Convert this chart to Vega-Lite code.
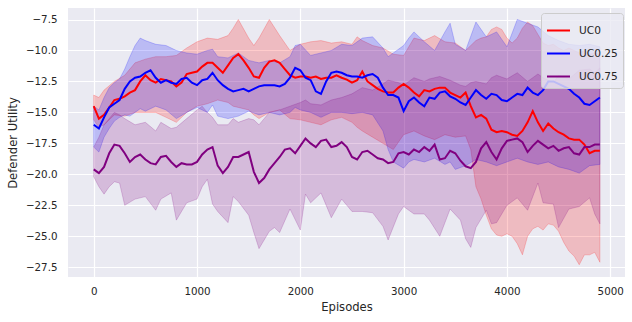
{
"$schema":"https://vega.github.io/schema/vega-lite/v6.json",
"autosize":{"type":"none"},
"padding":{"left":68,"top":8,"right":7,"bottom":45},
"width":557,"height":269,
"background":"white",
"config":{"view":{"fill":"#EAEAF2","stroke":null},
"axis":{"grid":true,"gridColor":"white","gridWidth":1.2,"domain":false,"ticks":false,"labelOverlap":false,"labelFont":"DejaVu Sans","labelFontSize":10.3,"labelColor":"#262626","titleFont":"DejaVu Sans","titleFontSize":11.6,"titleFontWeight":"normal","titleColor":"#262626"},
"legend":{"labelFont":"DejaVu Sans","labelFontSize":10.6,"labelColor":"#262626"}},
"datasets":{
"lines":[
{"s":"UC0","x":0,"y":-14.5},{"s":"UC0","x":50,"y":-15.5},{"s":"UC0","x":100,"y":-15.2},{"s":"UC0","x":150,"y":-14.6},{"s":"UC0","x":200,"y":-14.0},{"s":"UC0","x":250,"y":-13.9},{"s":"UC0","x":300,"y":-13.7},{"s":"UC0","x":350,"y":-13.4},{"s":"UC0","x":400,"y":-13.2},{"s":"UC0","x":450,"y":-12.5},{"s":"UC0","x":500,"y":-12.0},{"s":"UC0","x":550,"y":-12.4},{"s":"UC0","x":600,"y":-12.6},{"s":"UC0","x":650,"y":-12.3},{"s":"UC0","x":700,"y":-12.4},{"s":"UC0","x":750,"y":-12.5},{"s":"UC0","x":800,"y":-12.9},{"s":"UC0","x":850,"y":-12.6},{"s":"UC0","x":900,"y":-11.9},{"s":"UC0","x":950,"y":-11.8},{"s":"UC0","x":1000,"y":-11.7},{"s":"UC0","x":1050,"y":-11.3},{"s":"UC0","x":1100,"y":-11.0},{"s":"UC0","x":1150,"y":-11.0},{"s":"UC0","x":1200,"y":-11.4},{"s":"UC0","x":1250,"y":-11.8},{"s":"UC0","x":1300,"y":-11.2},{"s":"UC0","x":1350,"y":-10.6},{"s":"UC0","x":1400,"y":-10.3},{"s":"UC0","x":1450,"y":-10.8},{"s":"UC0","x":1500,"y":-11.4},{"s":"UC0","x":1550,"y":-12.1},{"s":"UC0","x":1600,"y":-12.2},{"s":"UC0","x":1650,"y":-11.4},{"s":"UC0","x":1700,"y":-10.9},{"s":"UC0","x":1750,"y":-10.8},{"s":"UC0","x":1800,"y":-11.0},{"s":"UC0","x":1850,"y":-11.5},{"s":"UC0","x":1900,"y":-12.0},{"s":"UC0","x":1950,"y":-12.2},{"s":"UC0","x":2000,"y":-12.1},{"s":"UC0","x":2050,"y":-12.1},{"s":"UC0","x":2100,"y":-12.2},{"s":"UC0","x":2150,"y":-12.1},{"s":"UC0","x":2200,"y":-12.3},{"s":"UC0","x":2250,"y":-12.2},{"s":"UC0","x":2300,"y":-12.2},{"s":"UC0","x":2350,"y":-12.0},{"s":"UC0","x":2400,"y":-12.2},{"s":"UC0","x":2450,"y":-12.35},{"s":"UC0","x":2500,"y":-12.6},{"s":"UC0","x":2550,"y":-12.4},{"s":"UC0","x":2600,"y":-11.7},{"s":"UC0","x":2650,"y":-12.5},{"s":"UC0","x":2700,"y":-12.8},{"s":"UC0","x":2750,"y":-13.1},{"s":"UC0","x":2800,"y":-13.3},{"s":"UC0","x":2850,"y":-13.4},{"s":"UC0","x":2900,"y":-13.4},{"s":"UC0","x":2950,"y":-13.0},{"s":"UC0","x":3000,"y":-12.7},{"s":"UC0","x":3050,"y":-13.0},{"s":"UC0","x":3100,"y":-13.4},{"s":"UC0","x":3150,"y":-13.7},{"s":"UC0","x":3200,"y":-13.2},{"s":"UC0","x":3250,"y":-13.3},{"s":"UC0","x":3300,"y":-13.1},{"s":"UC0","x":3350,"y":-13.0},{"s":"UC0","x":3400,"y":-13.0},{"s":"UC0","x":3450,"y":-13.4},{"s":"UC0","x":3500,"y":-13.6},{"s":"UC0","x":3550,"y":-13.8},{"s":"UC0","x":3600,"y":-13.4},{"s":"UC0","x":3650,"y":-14.5},{"s":"UC0","x":3700,"y":-15.4},{"s":"UC0","x":3750,"y":-15.2},{"s":"UC0","x":3800,"y":-15.5},{"s":"UC0","x":3850,"y":-16.4},{"s":"UC0","x":3900,"y":-16.6},{"s":"UC0","x":3950,"y":-16.5},{"s":"UC0","x":4000,"y":-16.6},{"s":"UC0","x":4050,"y":-16.8},{"s":"UC0","x":4100,"y":-16.9},{"s":"UC0","x":4150,"y":-16.5},{"s":"UC0","x":4200,"y":-15.8},{"s":"UC0","x":4250,"y":-14.9},{"s":"UC0","x":4300,"y":-15.8},{"s":"UC0","x":4350,"y":-16.5},{"s":"UC0","x":4400,"y":-15.9},{"s":"UC0","x":4450,"y":-16.3},{"s":"UC0","x":4500,"y":-16.6},{"s":"UC0","x":4550,"y":-16.8},{"s":"UC0","x":4600,"y":-17.1},{"s":"UC0","x":4650,"y":-17.2},{"s":"UC0","x":4700,"y":-17.2},{"s":"UC0","x":4750,"y":-17.6},{"s":"UC0","x":4800,"y":-18.3},{"s":"UC0","x":4850,"y":-18.1},{"s":"UC0","x":4900,"y":-18.1},
{"s":"UC0.25","x":0,"y":-16.0},{"s":"UC0.25","x":50,"y":-16.3},{"s":"UC0.25","x":100,"y":-15.4},{"s":"UC0.25","x":150,"y":-14.6},{"s":"UC0.25","x":200,"y":-14.3},{"s":"UC0.25","x":250,"y":-14.0},{"s":"UC0.25","x":300,"y":-13.1},{"s":"UC0.25","x":350,"y":-12.5},{"s":"UC0.25","x":400,"y":-12.2},{"s":"UC0.25","x":450,"y":-12.1},{"s":"UC0.25","x":500,"y":-11.8},{"s":"UC0.25","x":550,"y":-11.6},{"s":"UC0.25","x":600,"y":-12.2},{"s":"UC0.25","x":650,"y":-12.6},{"s":"UC0.25","x":700,"y":-12.4},{"s":"UC0.25","x":750,"y":-12.6},{"s":"UC0.25","x":800,"y":-12.7},{"s":"UC0.25","x":850,"y":-12.3},{"s":"UC0.25","x":900,"y":-12.2},{"s":"UC0.25","x":950,"y":-12.6},{"s":"UC0.25","x":1000,"y":-12.8},{"s":"UC0.25","x":1050,"y":-12.4},{"s":"UC0.25","x":1100,"y":-12.3},{"s":"UC0.25","x":1150,"y":-11.8},{"s":"UC0.25","x":1200,"y":-12.4},{"s":"UC0.25","x":1250,"y":-12.8},{"s":"UC0.25","x":1300,"y":-13.1},{"s":"UC0.25","x":1350,"y":-13.3},{"s":"UC0.25","x":1400,"y":-13.2},{"s":"UC0.25","x":1450,"y":-13.1},{"s":"UC0.25","x":1500,"y":-13.3},{"s":"UC0.25","x":1550,"y":-13.1},{"s":"UC0.25","x":1600,"y":-12.9},{"s":"UC0.25","x":1650,"y":-12.8},{"s":"UC0.25","x":1700,"y":-12.8},{"s":"UC0.25","x":1750,"y":-12.8},{"s":"UC0.25","x":1800,"y":-12.9},{"s":"UC0.25","x":1850,"y":-12.7},{"s":"UC0.25","x":1900,"y":-12.2},{"s":"UC0.25","x":1950,"y":-11.4},{"s":"UC0.25","x":2000,"y":-11.6},{"s":"UC0.25","x":2050,"y":-12.2},{"s":"UC0.25","x":2100,"y":-12.4},{"s":"UC0.25","x":2150,"y":-13.3},{"s":"UC0.25","x":2200,"y":-13.5},{"s":"UC0.25","x":2250,"y":-12.5},{"s":"UC0.25","x":2300,"y":-11.8},{"s":"UC0.25","x":2350,"y":-11.7},{"s":"UC0.25","x":2400,"y":-11.8},{"s":"UC0.25","x":2450,"y":-12.0},{"s":"UC0.25","x":2500,"y":-12.1},{"s":"UC0.25","x":2550,"y":-12.1},{"s":"UC0.25","x":2600,"y":-12.2},{"s":"UC0.25","x":2650,"y":-12.0},{"s":"UC0.25","x":2700,"y":-11.9},{"s":"UC0.25","x":2750,"y":-12.2},{"s":"UC0.25","x":2800,"y":-13.0},{"s":"UC0.25","x":2850,"y":-13.6},{"s":"UC0.25","x":2900,"y":-13.6},{"s":"UC0.25","x":2950,"y":-13.8},{"s":"UC0.25","x":3000,"y":-14.9},{"s":"UC0.25","x":3050,"y":-14.1},{"s":"UC0.25","x":3100,"y":-13.8},{"s":"UC0.25","x":3150,"y":-14.2},{"s":"UC0.25","x":3200,"y":-14.5},{"s":"UC0.25","x":3250,"y":-13.8},{"s":"UC0.25","x":3300,"y":-13.9},{"s":"UC0.25","x":3350,"y":-13.4},{"s":"UC0.25","x":3400,"y":-13.3},{"s":"UC0.25","x":3450,"y":-13.7},{"s":"UC0.25","x":3500,"y":-13.9},{"s":"UC0.25","x":3550,"y":-14.2},{"s":"UC0.25","x":3600,"y":-14.4},{"s":"UC0.25","x":3650,"y":-13.8},{"s":"UC0.25","x":3700,"y":-13.2},{"s":"UC0.25","x":3750,"y":-13.6},{"s":"UC0.25","x":3800,"y":-13.9},{"s":"UC0.25","x":3850,"y":-13.5},{"s":"UC0.25","x":3900,"y":-13.6},{"s":"UC0.25","x":3950,"y":-14.0},{"s":"UC0.25","x":4000,"y":-14.1},{"s":"UC0.25","x":4050,"y":-13.8},{"s":"UC0.25","x":4100,"y":-13.5},{"s":"UC0.25","x":4150,"y":-13.6},{"s":"UC0.25","x":4200,"y":-13.0},{"s":"UC0.25","x":4250,"y":-13.4},{"s":"UC0.25","x":4300,"y":-13.6},{"s":"UC0.25","x":4350,"y":-13.2},{"s":"UC0.25","x":4400,"y":-12.5},{"s":"UC0.25","x":4450,"y":-12.5},{"s":"UC0.25","x":4500,"y":-12.7},{"s":"UC0.25","x":4550,"y":-12.9},{"s":"UC0.25","x":4600,"y":-13.1},{"s":"UC0.25","x":4650,"y":-13.5},{"s":"UC0.25","x":4700,"y":-13.8},{"s":"UC0.25","x":4750,"y":-14.3},{"s":"UC0.25","x":4800,"y":-14.4},{"s":"UC0.25","x":4850,"y":-14.1},{"s":"UC0.25","x":4900,"y":-13.8},
{"s":"UC0.75","x":0,"y":-19.6},{"s":"UC0.75","x":50,"y":-19.9},{"s":"UC0.75","x":100,"y":-19.4},{"s":"UC0.75","x":150,"y":-18.3},{"s":"UC0.75","x":200,"y":-17.6},{"s":"UC0.75","x":250,"y":-17.7},{"s":"UC0.75","x":300,"y":-18.3},{"s":"UC0.75","x":350,"y":-19.0},{"s":"UC0.75","x":400,"y":-18.6},{"s":"UC0.75","x":450,"y":-18.4},{"s":"UC0.75","x":500,"y":-18.8},{"s":"UC0.75","x":550,"y":-19.1},{"s":"UC0.75","x":600,"y":-19.2},{"s":"UC0.75","x":650,"y":-18.6},{"s":"UC0.75","x":700,"y":-18.5},{"s":"UC0.75","x":750,"y":-19.0},{"s":"UC0.75","x":800,"y":-19.4},{"s":"UC0.75","x":850,"y":-19.1},{"s":"UC0.75","x":900,"y":-19.2},{"s":"UC0.75","x":950,"y":-19.2},{"s":"UC0.75","x":1000,"y":-19.0},{"s":"UC0.75","x":1050,"y":-18.4},{"s":"UC0.75","x":1100,"y":-18.0},{"s":"UC0.75","x":1150,"y":-17.8},{"s":"UC0.75","x":1200,"y":-19.3},{"s":"UC0.75","x":1250,"y":-19.9},{"s":"UC0.75","x":1300,"y":-19.4},{"s":"UC0.75","x":1350,"y":-18.6},{"s":"UC0.75","x":1400,"y":-18.6},{"s":"UC0.75","x":1450,"y":-18.4},{"s":"UC0.75","x":1500,"y":-18.2},{"s":"UC0.75","x":1550,"y":-19.8},{"s":"UC0.75","x":1600,"y":-20.7},{"s":"UC0.75","x":1650,"y":-20.3},{"s":"UC0.75","x":1700,"y":-19.6},{"s":"UC0.75","x":1750,"y":-19.1},{"s":"UC0.75","x":1800,"y":-18.6},{"s":"UC0.75","x":1850,"y":-18.0},{"s":"UC0.75","x":1900,"y":-17.9},{"s":"UC0.75","x":1950,"y":-18.3},{"s":"UC0.75","x":2000,"y":-17.7},{"s":"UC0.75","x":2050,"y":-17.1},{"s":"UC0.75","x":2100,"y":-17.5},{"s":"UC0.75","x":2150,"y":-17.8},{"s":"UC0.75","x":2200,"y":-17.3},{"s":"UC0.75","x":2250,"y":-17.2},{"s":"UC0.75","x":2300,"y":-17.8},{"s":"UC0.75","x":2350,"y":-17.7},{"s":"UC0.75","x":2400,"y":-17.4},{"s":"UC0.75","x":2450,"y":-17.8},{"s":"UC0.75","x":2500,"y":-18.6},{"s":"UC0.75","x":2550,"y":-18.8},{"s":"UC0.75","x":2600,"y":-18.2},{"s":"UC0.75","x":2650,"y":-18.1},{"s":"UC0.75","x":2700,"y":-18.4},{"s":"UC0.75","x":2750,"y":-18.7},{"s":"UC0.75","x":2800,"y":-18.8},{"s":"UC0.75","x":2850,"y":-19.1},{"s":"UC0.75","x":2900,"y":-19.0},{"s":"UC0.75","x":2950,"y":-18.3},{"s":"UC0.75","x":3000,"y":-18.2},{"s":"UC0.75","x":3050,"y":-18.4},{"s":"UC0.75","x":3100,"y":-18.0},{"s":"UC0.75","x":3150,"y":-18.2},{"s":"UC0.75","x":3200,"y":-17.8},{"s":"UC0.75","x":3250,"y":-18.1},{"s":"UC0.75","x":3300,"y":-17.6},{"s":"UC0.75","x":3350,"y":-18.8},{"s":"UC0.75","x":3400,"y":-18.7},{"s":"UC0.75","x":3450,"y":-18.1},{"s":"UC0.75","x":3500,"y":-18.3},{"s":"UC0.75","x":3550,"y":-18.9},{"s":"UC0.75","x":3600,"y":-19.35},{"s":"UC0.75","x":3650,"y":-19.5},{"s":"UC0.75","x":3700,"y":-19.0},{"s":"UC0.75","x":3750,"y":-17.9},{"s":"UC0.75","x":3800,"y":-17.4},{"s":"UC0.75","x":3850,"y":-18.2},{"s":"UC0.75","x":3900,"y":-18.8},{"s":"UC0.75","x":3950,"y":-17.9},{"s":"UC0.75","x":4000,"y":-17.3},{"s":"UC0.75","x":4050,"y":-17.2},{"s":"UC0.75","x":4100,"y":-17.1},{"s":"UC0.75","x":4150,"y":-17.4},{"s":"UC0.75","x":4200,"y":-18.2},{"s":"UC0.75","x":4250,"y":-17.7},{"s":"UC0.75","x":4300,"y":-17.3},{"s":"UC0.75","x":4350,"y":-17.6},{"s":"UC0.75","x":4400,"y":-17.9},{"s":"UC0.75","x":4450,"y":-17.7},{"s":"UC0.75","x":4500,"y":-18.1},{"s":"UC0.75","x":4550,"y":-17.9},{"s":"UC0.75","x":4600,"y":-17.8},{"s":"UC0.75","x":4650,"y":-18.3},{"s":"UC0.75","x":4700,"y":-18.4},{"s":"UC0.75","x":4750,"y":-17.8},{"s":"UC0.75","x":4800,"y":-17.8},{"s":"UC0.75","x":4850,"y":-17.6},{"s":"UC0.75","x":4900,"y":-17.6}
],
"bands":[
{"g":"UC0","x":0,"hi":-13.6,"y":-15.6},{"g":"UC0","x":50,"hi":-13.8,"y":-16.2},{"g":"UC0","x":100,"hi":-13.2,"y":-16.0},{"g":"UC0","x":200,"hi":-12.5,"y":-15.2},{"g":"UC0","x":300,"hi":-12.0,"y":-15.3},{"g":"UC0","x":400,"hi":-11.0,"y":-15.0},{"g":"UC0","x":500,"hi":-10.7,"y":-15.0},{"g":"UC0","x":600,"hi":-10.5,"y":-15.0},{"g":"UC0","x":700,"hi":-10.5,"y":-15.4},{"g":"UC0","x":800,"hi":-10.4,"y":-15.8},{"g":"UC0","x":900,"hi":-9.8,"y":-15.0},{"g":"UC0","x":1000,"hi":-9.3,"y":-14.5},{"g":"UC0","x":1100,"hi":-9.0,"y":-14.3},{"g":"UC0","x":1200,"hi":-9.1,"y":-14.0},{"g":"UC0","x":1300,"hi":-8.8,"y":-14.2},{"g":"UC0","x":1350,"hi":-8.2,"y":-14.5},{"g":"UC0","x":1400,"hi":-7.5,"y":-14.6},{"g":"UC0","x":1500,"hi":-9.0,"y":-14.8},{"g":"UC0","x":1550,"hi":-9.6,"y":-15.2},{"g":"UC0","x":1600,"hi":-9.0,"y":-15.5},{"g":"UC0","x":1700,"hi":-7.5,"y":-15.0},{"g":"UC0","x":1800,"hi":-8.8,"y":-14.8},{"g":"UC0","x":1900,"hi":-10.0,"y":-15.5},{"g":"UC0","x":2000,"hi":-9.5,"y":-15.6},{"g":"UC0","x":2100,"hi":-9.3,"y":-15.8},{"g":"UC0","x":2200,"hi":-9.2,"y":-16.0},{"g":"UC0","x":2300,"hi":-9.4,"y":-15.6},{"g":"UC0","x":2400,"hi":-9.3,"y":-15.4},{"g":"UC0","x":2500,"hi":-9.5,"y":-15.8},{"g":"UC0","x":2550,"hi":-8.9,"y":-16.2},{"g":"UC0","x":2600,"hi":-9.2,"y":-16.5},{"g":"UC0","x":2700,"hi":-9.6,"y":-17.0},{"g":"UC0","x":2800,"hi":-9.8,"y":-17.5},{"g":"UC0","x":2900,"hi":-10.3,"y":-18.0},{"g":"UC0","x":3000,"hi":-10.4,"y":-16.8},{"g":"UC0","x":3100,"hi":-9.0,"y":-16.5},{"g":"UC0","x":3200,"hi":-9.2,"y":-16.9},{"g":"UC0","x":3300,"hi":-8.8,"y":-17.2},{"g":"UC0","x":3400,"hi":-9.3,"y":-16.8},{"g":"UC0","x":3500,"hi":-9.4,"y":-17.0},{"g":"UC0","x":3600,"hi":-10.0,"y":-16.9},{"g":"UC0","x":3650,"hi":-9.6,"y":-18.0},{"g":"UC0","x":3700,"hi":-9.2,"y":-21.0},{"g":"UC0","x":3750,"hi":-9.0,"y":-22.0},{"g":"UC0","x":3800,"hi":-8.9,"y":-23.3},{"g":"UC0","x":3850,"hi":-8.3,"y":-24.4},{"g":"UC0","x":3900,"hi":-8.1,"y":-24.9},{"g":"UC0","x":3950,"hi":-8.3,"y":-25.0},{"g":"UC0","x":4000,"hi":-9.0,"y":-24.8},{"g":"UC0","x":4050,"hi":-9.4,"y":-25.0},{"g":"UC0","x":4100,"hi":-9.0,"y":-25.6},{"g":"UC0","x":4150,"hi":-8.2,"y":-26.5},{"g":"UC0","x":4200,"hi":-7.7,"y":-25.0},{"g":"UC0","x":4250,"hi":-8.0,"y":-24.4},{"g":"UC0","x":4300,"hi":-8.7,"y":-24.2},{"g":"UC0","x":4350,"hi":-9.4,"y":-24.5},{"g":"UC0","x":4400,"hi":-9.6,"y":-24.0},{"g":"UC0","x":4450,"hi":-9.5,"y":-24.1},{"g":"UC0","x":4500,"hi":-9.8,"y":-24.6},{"g":"UC0","x":4550,"hi":-10.0,"y":-25.5},{"g":"UC0","x":4600,"hi":-9.8,"y":-26.2},{"g":"UC0","x":4650,"hi":-10.0,"y":-26.6},{"g":"UC0","x":4700,"hi":-10.2,"y":-27.3},{"g":"UC0","x":4750,"hi":-10.0,"y":-26.5},{"g":"UC0","x":4800,"hi":-10.3,"y":-26.5},{"g":"UC0","x":4850,"hi":-10.2,"y":-26.3},{"g":"UC0","x":4900,"hi":-10.3,"y":-27.1},
{"g":"UC0.25","x":0,"hi":-14.5,"y":-17.8},{"g":"UC0.25","x":50,"hi":-14.8,"y":-18.2},{"g":"UC0.25","x":100,"hi":-13.8,"y":-17.0},{"g":"UC0.25","x":150,"hi":-13.0,"y":-16.3},{"g":"UC0.25","x":200,"hi":-12.6,"y":-15.7},{"g":"UC0.25","x":250,"hi":-12.3,"y":-15.4},{"g":"UC0.25","x":300,"hi":-11.5,"y":-15.2},{"g":"UC0.25","x":350,"hi":-10.5,"y":-15.3},{"g":"UC0.25","x":400,"hi":-9.6,"y":-15.0},{"g":"UC0.25","x":450,"hi":-9.0,"y":-14.7},{"g":"UC0.25","x":500,"hi":-9.2,"y":-14.9},{"g":"UC0.25","x":600,"hi":-9.5,"y":-14.5},{"g":"UC0.25","x":700,"hi":-9.6,"y":-14.8},{"g":"UC0.25","x":800,"hi":-10.0,"y":-15.5},{"g":"UC0.25","x":900,"hi":-10.2,"y":-15.0},{"g":"UC0.25","x":1000,"hi":-10.3,"y":-14.6},{"g":"UC0.25","x":1100,"hi":-10.0,"y":-15.0},{"g":"UC0.25","x":1150,"hi":-9.9,"y":-14.4},{"g":"UC0.25","x":1200,"hi":-10.5,"y":-15.3},{"g":"UC0.25","x":1300,"hi":-10.6,"y":-15.5},{"g":"UC0.25","x":1400,"hi":-10.2,"y":-15.3},{"g":"UC0.25","x":1500,"hi":-10.8,"y":-14.9},{"g":"UC0.25","x":1600,"hi":-11.0,"y":-15.2},{"g":"UC0.25","x":1700,"hi":-10.8,"y":-15.0},{"g":"UC0.25","x":1800,"hi":-11.0,"y":-15.2},{"g":"UC0.25","x":1900,"hi":-10.5,"y":-15.0},{"g":"UC0.25","x":1950,"hi":-9.6,"y":-14.6},{"g":"UC0.25","x":2000,"hi":-9.5,"y":-14.8},{"g":"UC0.25","x":2100,"hi":-10.4,"y":-15.0},{"g":"UC0.25","x":2200,"hi":-10.2,"y":-15.4},{"g":"UC0.25","x":2300,"hi":-10.0,"y":-15.0},{"g":"UC0.25","x":2400,"hi":-9.5,"y":-15.0},{"g":"UC0.25","x":2500,"hi":-9.6,"y":-15.1},{"g":"UC0.25","x":2600,"hi":-9.0,"y":-15.0},{"g":"UC0.25","x":2700,"hi":-8.9,"y":-15.2},{"g":"UC0.25","x":2800,"hi":-9.8,"y":-16.5},{"g":"UC0.25","x":2850,"hi":-10.5,"y":-18.0},{"g":"UC0.25","x":2900,"hi":-10.2,"y":-19.0},{"g":"UC0.25","x":3000,"hi":-9.6,"y":-19.5},{"g":"UC0.25","x":3050,"hi":-9.0,"y":-19.0},{"g":"UC0.25","x":3100,"hi":-8.5,"y":-18.8},{"g":"UC0.25","x":3200,"hi":-9.3,"y":-19.0},{"g":"UC0.25","x":3300,"hi":-10.0,"y":-18.7},{"g":"UC0.25","x":3400,"hi":-8.5,"y":-19.2},{"g":"UC0.25","x":3450,"hi":-7.8,"y":-19.0},{"g":"UC0.25","x":3500,"hi":-9.5,"y":-19.6},{"g":"UC0.25","x":3600,"hi":-10.0,"y":-19.3},{"g":"UC0.25","x":3700,"hi":-7.7,"y":-18.8},{"g":"UC0.25","x":3800,"hi":-8.9,"y":-19.0},{"g":"UC0.25","x":3900,"hi":-8.5,"y":-19.3},{"g":"UC0.25","x":4000,"hi":-9.7,"y":-19.0},{"g":"UC0.25","x":4100,"hi":-7.5,"y":-18.7},{"g":"UC0.25","x":4200,"hi":-7.8,"y":-19.0},{"g":"UC0.25","x":4300,"hi":-8.1,"y":-19.2},{"g":"UC0.25","x":4400,"hi":-8.8,"y":-19.0},{"g":"UC0.25","x":4500,"hi":-9.2,"y":-19.4},{"g":"UC0.25","x":4600,"hi":-9.5,"y":-19.6},{"g":"UC0.25","x":4700,"hi":-9.6,"y":-19.9},{"g":"UC0.25","x":4800,"hi":-9.5,"y":-19.3},{"g":"UC0.25","x":4900,"hi":-9.7,"y":-19.2},
{"g":"UC0.75","x":0,"hi":-17.8,"y":-20.2},{"g":"UC0.75","x":50,"hi":-17.0,"y":-21.0},{"g":"UC0.75","x":100,"hi":-16.0,"y":-21.6},{"g":"UC0.75","x":150,"hi":-15.5,"y":-21.0},{"g":"UC0.75","x":200,"hi":-15.0,"y":-20.6},{"g":"UC0.75","x":250,"hi":-15.2,"y":-20.7},{"g":"UC0.75","x":300,"hi":-15.5,"y":-22.5},{"g":"UC0.75","x":400,"hi":-16.0,"y":-22.0},{"g":"UC0.75","x":500,"hi":-15.8,"y":-21.8},{"g":"UC0.75","x":600,"hi":-16.5,"y":-22.9},{"g":"UC0.75","x":650,"hi":-15.8,"y":-22.0},{"g":"UC0.75","x":750,"hi":-16.3,"y":-21.5},{"g":"UC0.75","x":800,"hi":-16.2,"y":-23.7},{"g":"UC0.75","x":900,"hi":-15.5,"y":-22.3},{"g":"UC0.75","x":1000,"hi":-14.8,"y":-22.0},{"g":"UC0.75","x":1050,"hi":-14.5,"y":-21.0},{"g":"UC0.75","x":1100,"hi":-15.0,"y":-20.4},{"g":"UC0.75","x":1150,"hi":-15.4,"y":-22.4},{"g":"UC0.75","x":1200,"hi":-16.0,"y":-23.0},{"g":"UC0.75","x":1300,"hi":-16.0,"y":-23.9},{"g":"UC0.75","x":1350,"hi":-15.5,"y":-21.8},{"g":"UC0.75","x":1400,"hi":-15.8,"y":-22.2},{"g":"UC0.75","x":1500,"hi":-15.5,"y":-23.3},{"g":"UC0.75","x":1550,"hi":-15.6,"y":-24.7},{"g":"UC0.75","x":1600,"hi":-16.0,"y":-26.0},{"g":"UC0.75","x":1700,"hi":-15.0,"y":-24.6},{"g":"UC0.75","x":1750,"hi":-14.9,"y":-24.3},{"g":"UC0.75","x":1800,"hi":-14.8,"y":-24.7},{"g":"UC0.75","x":1900,"hi":-14.5,"y":-22.8},{"g":"UC0.75","x":2000,"hi":-14.2,"y":-24.5},{"g":"UC0.75","x":2050,"hi":-14.0,"y":-21.6},{"g":"UC0.75","x":2100,"hi":-14.3,"y":-22.3},{"g":"UC0.75","x":2200,"hi":-14.4,"y":-21.5},{"g":"UC0.75","x":2300,"hi":-14.0,"y":-23.5},{"g":"UC0.75","x":2400,"hi":-13.8,"y":-22.0},{"g":"UC0.75","x":2500,"hi":-13.5,"y":-23.0},{"g":"UC0.75","x":2600,"hi":-13.0,"y":-23.0},{"g":"UC0.75","x":2700,"hi":-13.2,"y":-23.1},{"g":"UC0.75","x":2800,"hi":-12.7,"y":-24.2},{"g":"UC0.75","x":2850,"hi":-12.4,"y":-25.3},{"g":"UC0.75","x":2950,"hi":-12.6,"y":-23.2},{"g":"UC0.75","x":3000,"hi":-12.8,"y":-22.6},{"g":"UC0.75","x":3100,"hi":-12.2,"y":-23.2},{"g":"UC0.75","x":3200,"hi":-12.5,"y":-23.2},{"g":"UC0.75","x":3250,"hi":-12.3,"y":-23.7},{"g":"UC0.75","x":3350,"hi":-12.1,"y":-25.0},{"g":"UC0.75","x":3450,"hi":-12.4,"y":-22.8},{"g":"UC0.75","x":3550,"hi":-12.8,"y":-23.7},{"g":"UC0.75","x":3600,"hi":-12.9,"y":-25.2},{"g":"UC0.75","x":3650,"hi":-12.6,"y":-25.9},{"g":"UC0.75","x":3700,"hi":-12.5,"y":-24.3},{"g":"UC0.75","x":3800,"hi":-12.7,"y":-22.9},{"g":"UC0.75","x":3850,"hi":-12.2,"y":-24.0},{"g":"UC0.75","x":3900,"hi":-12.0,"y":-23.9},{"g":"UC0.75","x":4000,"hi":-12.3,"y":-22.5},{"g":"UC0.75","x":4100,"hi":-11.8,"y":-21.9},{"g":"UC0.75","x":4200,"hi":-12.5,"y":-22.9},{"g":"UC0.75","x":4300,"hi":-11.9,"y":-20.7},{"g":"UC0.75","x":4350,"hi":-12.2,"y":-22.3},{"g":"UC0.75","x":4450,"hi":-12.6,"y":-22.4},{"g":"UC0.75","x":4500,"hi":-12.0,"y":-24.3},{"g":"UC0.75","x":4600,"hi":-12.3,"y":-22.8},{"g":"UC0.75","x":4700,"hi":-11.6,"y":-22.6},{"g":"UC0.75","x":4800,"hi":-11.5,"y":-21.9},{"g":"UC0.75","x":4850,"hi":-11.8,"y":-23.2},{"g":"UC0.75","x":4900,"hi":-11.4,"y":-24.0}
]},
"encoding":{
"x":{"field":"x","type":"quantitative","title":"Episodes","scale":{"domain":[-249,5143],"nice":false,"zero":false},"axis":{"values":[0,1000,2000,3000,4000,5000],"format":"d","labelOverlap":false,"labelPadding":9,"titlePadding":5}},
"y":{"field":"y","type":"quantitative","title":"Defender Utility","scale":{"domain":[-28.29,-6.57],"nice":false,"zero":false},"axis":{"values":[-27.5,-25,-22.5,-20,-17.5,-15,-12.5,-10,-7.5],"format":".1f","labelOverlap":false,"labelPadding":11,"titlePadding":7}}},
"layer":[
{"data":{"name":"bands"},"transform":[{"filter":"datum.g == 'UC0'"}],
"mark":{"type":"area","orient":"vertical","color":"red","fillOpacity":0.2,"stroke":"red","strokeOpacity":0.2,"strokeWidth":1},
"encoding":{"y2":{"field":"hi"}}},
{"data":{"name":"bands"},"transform":[{"filter":"datum.g == 'UC0.25'"}],
"mark":{"type":"area","orient":"vertical","color":"blue","fillOpacity":0.2,"stroke":"blue","strokeOpacity":0.2,"strokeWidth":1},
"encoding":{"y2":{"field":"hi"}}},
{"data":{"name":"bands"},"transform":[{"filter":"datum.g == 'UC0.75'"}],
"mark":{"type":"area","orient":"vertical","color":"purple","fillOpacity":0.2,"stroke":"purple","strokeOpacity":0.2,"strokeWidth":1},
"encoding":{"y2":{"field":"hi"}}},
{"data":{"name":"lines"},
"mark":{"type":"line","strokeWidth":2},
"encoding":{
"color":{"field":"s","type":"nominal","scale":{"domain":["UC0","UC0.25","UC0.75"],"range":["red","blue","purple"]},
"legend":{"title":null,"orient":"none","legendX":473,"legendY":5,"symbolType":"stroke","symbolSize":529,"symbolStrokeWidth":2,"labelOffset":8,"rowPadding":4,"padding":5,"fillColor":"rgba(234,234,242,0.8)","strokeColor":"#cccccc","cornerRadius":3}}}}
]}
